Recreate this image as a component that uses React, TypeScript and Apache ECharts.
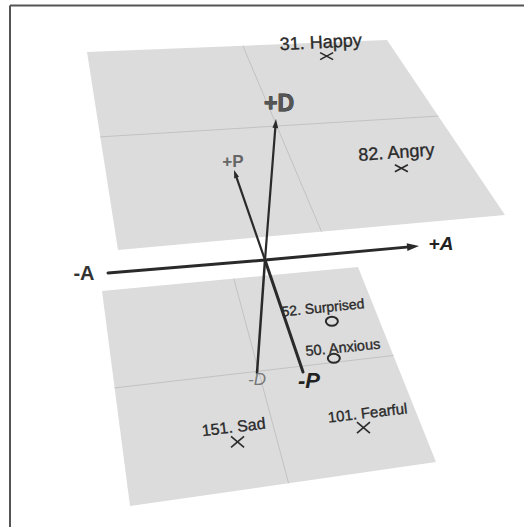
import React, { useEffect, useRef } from "react";
import * as echarts from "echarts";

// ---- data ----
const EMOTIONS = ["31. Happy", "82. Angry", "52. Surprised", "50. Anxious", "151. Sad", "101. Fearful"];
const AROUSAL = [0.52, 0.59, 0.64, 0.56, -0.26, 0.6];
const PLEASURE = [0.81, -0.51, 0.42, 0.04, -0.61, -0.63];
const DOMINANCE = [1, 1, -1, -1, -1, -1];
const MARKERS = ["cross", "cross", "circle", "circle", "cross", "cross"];
const PLANE_LEVELS = [1, -1];
const AXIS_NAMES = ["-A", "+A", "+D", "-D", "+P", "-P"];

// ---- layout (pixel positions / styles) ----
const W = 524;
const H = 527;
const FONT = "'Liberation Sans', Arial, sans-serif";
const PLANE_QUADS: number[][][] = [
  [[87, 52], [387, 40], [505, 215], [118, 250]],
  [[102, 291], [358, 267], [436, 462], [130, 506]],
];
const ORIGIN = [265, 260];
const AXIS_LAYOUT: Record<string, any> = {
  "+A": { end: [419, 246], arrow: 12, width: 3, label: [441, 243], font: `italic bold 19px ${FONT}`, fill: "#222", stroke: 0 },
  "-A": { end: [108, 273], arrow: 0, width: 3, label: [84, 273], font: `bold 20px ${FONT}`, fill: "#333", stroke: 0 },
  "+D": { end: [276, 119], arrow: 9, width: 2.2, label: [279, 103], font: `bold 23px ${FONT}`, fill: "#555", stroke: 0.8 },
  "-D": { end: [257, 373], arrow: 0, width: 2.5, label: [257, 379], font: `italic 17px ${FONT}`, fill: "#777", stroke: 0 },
  "+P": { end: [234, 170], arrow: 8, width: 2.2, label: [233, 161], font: `bold 17px ${FONT}`, fill: "#666", stroke: 0 },
  "-P": { end: [303, 372], arrow: 0, width: 3, label: [309, 380], font: `italic bold 22px ${FONT}`, fill: "#222", stroke: 0 },
};
const LABEL_OFFSETS = [[-6, -14], [-5, -16], [-9, -14], [9, -11], [-4, -15], [4, -15]];
const LABEL_SIZES = [18, 18, 14, 14.5, 16, 15];
const LABEL_ROT = [0.05, 0.07, 0.1, 0.1, 0.12, 0.12];
const PLANE_FILL = "#dcdcdc";
const GRID_LINE = "#c2c2c2";
const INK = "#2a2a2a";

function homography(q: number[][]) {
  const [p0, p1, p2, p3] = q;
  const dx1 = p1[0] - p2[0], dx2 = p3[0] - p2[0], dx3 = p0[0] - p1[0] + p2[0] - p3[0];
  const dy1 = p1[1] - p2[1], dy2 = p3[1] - p2[1], dy3 = p0[1] - p1[1] + p2[1] - p3[1];
  const den = dx1 * dy2 - dx2 * dy1;
  const g = (dx3 * dy2 - dx2 * dy3) / den;
  const h = (dx1 * dy3 - dx3 * dy1) / den;
  const a = p1[0] - p0[0] + g * p1[0], b = p3[0] - p0[0] + h * p3[0], c = p0[0];
  const d = p1[1] - p0[1] + g * p1[1], e = p3[1] - p0[1] + h * p3[1], f = p0[1];
  return (A: number, P: number) => {
    const u = (A + 1) / 2;
    const v = (1 - P) / 2;
    const w = g * u + h * v + 1;
    return [(a * u + b * v + c) / w, (d * u + e * v + f) / w];
  };
}
const PROJ = PLANE_QUADS.map(homography);

export default function App() {
  const ref = useRef<HTMLDivElement>(null);
  useEffect(() => {
    document.body.style.margin = "0";
    const chart = echarts.init(ref.current!, null, { renderer: "svg" });
    const planeIndex = (lvl: number) => PLANE_LEVELS.indexOf(lvl);

    const option: any = {
      animation: false,
      backgroundColor: "#fff",
      grid: { left: 0, right: 0, top: 0, bottom: 0 },
      xAxis: { type: "value", min: 0, max: W, show: false },
      yAxis: { type: "value", min: 0, max: H, inverse: true, show: false },
      graphic: [
        { type: "line", shape: { x1: 10, y1: 5.5, x2: W, y2: 5.5 }, style: { stroke: "#555", lineWidth: 2 } },
        { type: "line", shape: { x1: 10, y1: 5.5, x2: 10, y2: H }, style: { stroke: "#555", lineWidth: 2 } },
      ],
      series: [
        {
          type: "custom",
          name: "planes",
          clip: false,
          z: 1,
          data: PLANE_LEVELS.map((l) => [0, 0, l]),
          renderItem: (params: any, api: any) => {
            const i = planeIndex(api.value(2));
            const pr = PROJ[i];
            const c = (p: number[]) => api.coord(p);
            const corners = [pr(-1, 1), pr(1, 1), pr(1, -1), pr(-1, -1)].map(c);
            const a0 = [pr(0, 1), pr(0, -1)].map(c);
            const p0 = [pr(-1, 0), pr(1, 0)].map(c);
            return {
              type: "group",
              children: [
                { type: "polygon", shape: { points: corners }, style: { fill: PLANE_FILL } },
                { type: "line", shape: { x1: a0[0][0], y1: a0[0][1], x2: a0[1][0], y2: a0[1][1] }, style: { stroke: GRID_LINE, lineWidth: 1 } },
                { type: "line", shape: { x1: p0[0][0], y1: p0[0][1], x2: p0[1][0], y2: p0[1][1] }, style: { stroke: GRID_LINE, lineWidth: 1 } },
              ],
            };
          },
        },
        {
          type: "custom",
          name: "emotions",
          clip: false,
          z: 2,
          data: EMOTIONS.map((n, i) => ({ name: n, value: [AROUSAL[i], PLEASURE[i], DOMINANCE[i], i] })),
          renderItem: (params: any, api: any) => {
            const idx = params.dataIndex;
            const pi = planeIndex(api.value(2));
            const [px, py] = api.coord(PROJ[pi](api.value(0), api.value(1)));
            const children: any[] = [];
            if (MARKERS[idx] === "cross") {
              const w = pi === 0 ? 13 : 13;
              const h = pi === 0 ? 7 : 11;
              children.push(
                { type: "line", shape: { x1: px - w / 2, y1: py - h / 2, x2: px + w / 2, y2: py + h / 2 }, style: { stroke: INK, lineWidth: 1.6 } },
                { type: "line", shape: { x1: px - w / 2, y1: py + h / 2, x2: px + w / 2, y2: py - h / 2 }, style: { stroke: INK, lineWidth: 1.6 } }
              );
            } else {
              children.push({ type: "ellipse", shape: { cx: px, cy: py, rx: 6, ry: 4.5 }, style: { fill: "none", stroke: INK, lineWidth: 2 } });
            }
            const off = LABEL_OFFSETS[idx];
            children.push({
              type: "text",
              x: px + off[0],
              y: py + off[1],
              rotation: LABEL_ROT[idx],
              style: {
                text: EMOTIONS[idx],
                x: 0,
                y: 0,
                textAlign: "center",
                textVerticalAlign: "middle",
                font: `${LABEL_SIZES[idx]}px ${FONT}`,
                fill: "#2a2a2a",
                stroke: "#2a2a2a",
                lineWidth: 0.35,
              },
            });
            return { type: "group", children };
          },
        },
        {
          type: "custom",
          name: "axes",
          clip: false,
          z: 3,
          data: AXIS_NAMES.map((n) => ({ name: n, value: [0, 0] })),
          renderItem: (params: any, api: any) => {
            const name = AXIS_NAMES[params.dataIndex];
            const L = AXIS_LAYOUT[name];
            const o = api.coord(ORIGIN);
            const e = api.coord(L.end);
            const children: any[] = [];
            const dx = e[0] - o[0], dy = e[1] - o[1];
            const len = Math.hypot(dx, dy);
            const ux = dx / len, uy = dy / len;
            const al = L.arrow;
            const lineEnd = al ? [e[0] - ux * al * 0.8, e[1] - uy * al * 0.8] : e;
            children.push({ type: "line", shape: { x1: o[0], y1: o[1], x2: lineEnd[0], y2: lineEnd[1] }, style: { stroke: INK, lineWidth: L.width, lineCap: "round" } });
            if (al) {
              const hw = al * 0.32;
              const bx = e[0] - ux * al, by = e[1] - uy * al;
              children.push({
                type: "polygon",
                shape: { points: [e, [bx - uy * hw, by + ux * hw], [bx + uy * hw, by - ux * hw]] },
                style: { fill: INK },
              });
            }
            const lp = api.coord(L.label);
            const st: any = { text: name, x: 0, y: 0, textAlign: "center", textVerticalAlign: "middle", font: L.font, fill: L.fill };
            if (L.stroke) {
              st.stroke = "#222";
              st.lineWidth = L.stroke;
            }
            children.push({ type: "text", x: lp[0], y: lp[1], style: st });
            return { type: "group", children };
          },
        },
      ],
    };
    chart.setOption(option);
    return () => chart.dispose();
  }, []);
  return <div ref={ref} style={{ width: W, height: H }} />;
}
